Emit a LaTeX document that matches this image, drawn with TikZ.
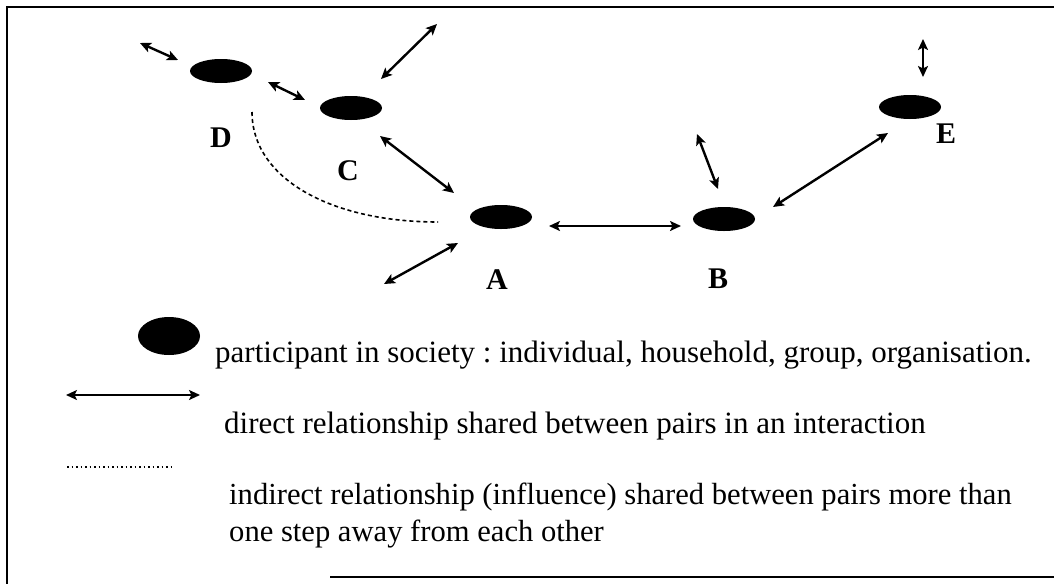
\documentclass[tikz,border=0pt]{standalone}
\usepackage{fontspec}
\setmainfont{Liberation Serif}
\usetikzlibrary{shapes.geometric,arrows.meta}
\begin{document}
\frenchspacing
\begin{tikzpicture}[x=1pt,y=-1pt,
  actor/.style={ellipse,fill=black,minimum width=62pt,minimum height=24pt,inner sep=0pt},
  lbl/.style={font=\fontsize{30}{36}\selectfont\bfseries,inner sep=0pt},
  rel/.style={line width=2.4pt,{Stealth[length=11pt,width=10pt,inset=2.5pt]}-{Stealth[length=11pt,width=10pt,inset=2.5pt]}},
  infl/.style={line width=1.6pt,dash pattern=on 4pt off 3pt},
  txt/.style={font=\fontsize{31}{37}\selectfont,inner sep=0pt,anchor=base west},
  frame/.style={line width=1.8pt}]
\useasboundingbox (0,0) rectangle (1054,584);
% frame
\coordinate (f1) at (1054,7);
\coordinate (f2) at (7,7);
\coordinate (f3) at (7,584);
\coordinate (f4) at (330,577);
\coordinate (f5) at (1054,577);
\draw[frame] (f1) -- (f2) -- (f3);
\draw[frame] (f4) -- (f5);
% participants
\node[actor] (D) at (221,71) {};
\node[actor] (C) at (351,108) {};
\node[actor] (A) at (501,217) {};
\node[actor] (B) at (724,219) {};
\node[actor] (E) at (910,107) {};
\node[lbl] (lD) at (221,138) {D};
\node[lbl] (lC) at (348,171) {C};
\node[lbl] (lA) at (497,280) {A};
\node[lbl] (lB) at (718,279) {B};
\node[lbl] (lE) at (946,134) {E};
% arrow end points
\coordinate (d1) at (140,43); \coordinate (d2) at (178,60);
\coordinate (dc1) at (268,82); \coordinate (dc2) at (305,100);
\coordinate (c1) at (437,24); \coordinate (c2) at (381,79);
\coordinate (ca1) at (380,136); \coordinate (ca2) at (454,193);
\coordinate (a1) at (384,284); \coordinate (a2) at (458,243);
\coordinate (ab1) at (549,226); \coordinate (ab2) at (681,226);
\coordinate (b1) at (697,134); \coordinate (b2) at (718,189);
\coordinate (be1) at (773,207); \coordinate (be2) at (888,133);
\coordinate (e1) at (923,39); \coordinate (e2) at (923,77);
\draw[rel] (d1) -- (d2);
\draw[rel] (dc1) -- (dc2);
\draw[rel] (c1) -- (c2);
\draw[rel] (ca1) -- (ca2);
\draw[rel] (a1) -- (a2);
\draw[rel] (ab1) -- (ab2);
\draw[rel] (b1) -- (b2);
\draw[rel] (be1) -- (be2);
\draw[rel] (e1) -- (e2);
% indirect influence D ... A
\coordinate (i1) at (252,112);
\coordinate (i2) at (438,222);
\draw[infl] (i1) .. controls (252,178) and (330,222) .. (i2);
% legend
\node[ellipse,fill=black,minimum width=62pt,minimum height=38pt,inner sep=0pt] (legA) at (169,336) {};
\node[txt] (t1) at (215,362) {participant in society : individual, household, group, organisation.};
\coordinate (la1) at (66,395); \coordinate (la2) at (200,395);
\draw[rel,line width=1.8pt] (la1) -- (la2);
\node[txt] (t2) at (224,433) {direct relationship shared between pairs in an interaction};
\coordinate (ld1) at (67,467); \coordinate (ld2) at (174,467);
\draw[line width=1.2pt,dash pattern=on 1.5pt off 3pt] (ld1) -- (ld2);
\node[txt,font=\fontsize{30.6}{37}\selectfont] (t3) at (229,504) {indirect relationship (influence) shared between pairs more than};
\node[txt,font=\fontsize{30.6}{37}\selectfont] (t4) at (229,541) {one step away from each other};
\end{tikzpicture}
\end{document}
